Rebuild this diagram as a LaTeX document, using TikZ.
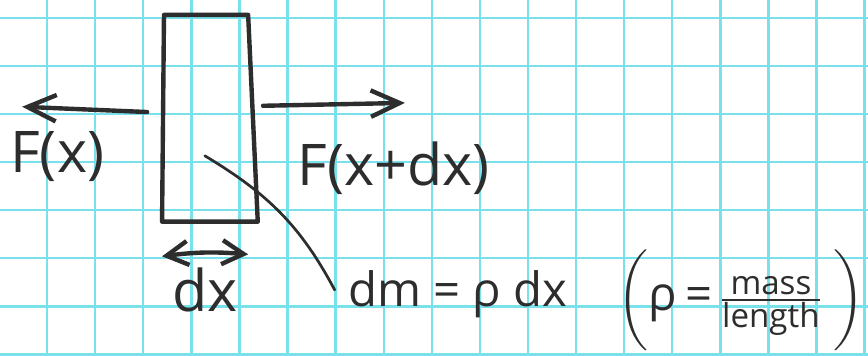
\documentclass[tikz,border=0pt]{standalone}
\usepackage{amsmath}
\usepackage{fontspec}
\setmainfont{Open Sans}
\usepackage{tikz}
\usetikzlibrary{arrows.meta,calc}
\definecolor{gridcyan}{RGB}{120,225,235}
\definecolor{ink}{RGB}{45,45,45}

\tikzset{
  marker/.style={ink,line width=2.6pt,line cap=round,line join=round},
  scrawl/.style={text=ink,inner sep=0pt,font=\fontsize{34}{38}\selectfont},
}

\begin{document}
\begin{tikzpicture}[>={Straight Barb[length=0.6cm,width=0.55cm]}]
        \def\W{18.05}
        \def\H{7.40}
        \useasboundingbox (0,0) rectangle (\W,\H);
        \fill[white] (0,0) rectangle (\W,\H);

        % -- graph paper: vertical lines first, then horizontal ones --
        \foreach \x in {0.98,1.98,...,17.98}
            \draw[gridcyan,line width=1.4pt] (\x,0) -- (\x,\H);
        \foreach \y in {0.03,1.03,...,7.03}
            \draw[gridcyan,line width=1.4pt] (0,\y) -- (\W,\y);

        % -- the slab dx (drawn by hand, right side leans a bit) --
        \draw[marker] (3.41,7.09) -- (5.16,7.09) -- (5.36,2.79)
            -- (3.37,2.79) -- cycle;

        % -- F(x) pulls to the left, F(x+dx) to the right --
        \coordinate (Lfrom) at (3.06,5.07);
        \coordinate (Lto)   at (0.46,5.18);
        \draw[->,marker] (Lfrom) -- (Lto);
        \node[scrawl] (Fx) at (1.19,4.14) {F(x)};

        \coordinate (Rfrom) at (5.47,5.20);
        \coordinate (Rto)   at (8.42,5.26);
        \draw[->,marker] (Rfrom) -- (Rto);
        \node[scrawl] (Fxdx) at (8.18,3.91) {F(x+dx)};

        % -- width of the slab --
        \coordinate (dxL) at (3.37,2.07);
        \coordinate (dxR) at (5.16,2.11);
        \draw[<->,marker,>={Straight Barb[length=0.45cm,width=0.5cm]}]
            (dxL) to[bend left=6] (dxR);
        \node[scrawl,font=\fontsize{34}{38}\selectfont] (dx) at (4.26,1.37) {dx};

        % -- mass of the slab, pointer from inside --
        \coordinate (inside) at (4.26,4.16);
        \node[scrawl,anchor=base,font=\fontsize{28}{32}\selectfont]
            (dm) at (9.52,1.02) {dm = ρ dx};
        \draw[marker,line width=1.6pt] (inside) to[out=-31,in=118] (6.96,1.37);

        % -- density note --
        \node[scrawl,font=\fontsize{28}{32}\selectfont] (rho) at (15.41,1.16)
            {$\bigg(\text{ρ\,=\,}\frac{\text{mass}}{\text{length}}\;\bigg)$};

    \end{tikzpicture}
\end{document}
